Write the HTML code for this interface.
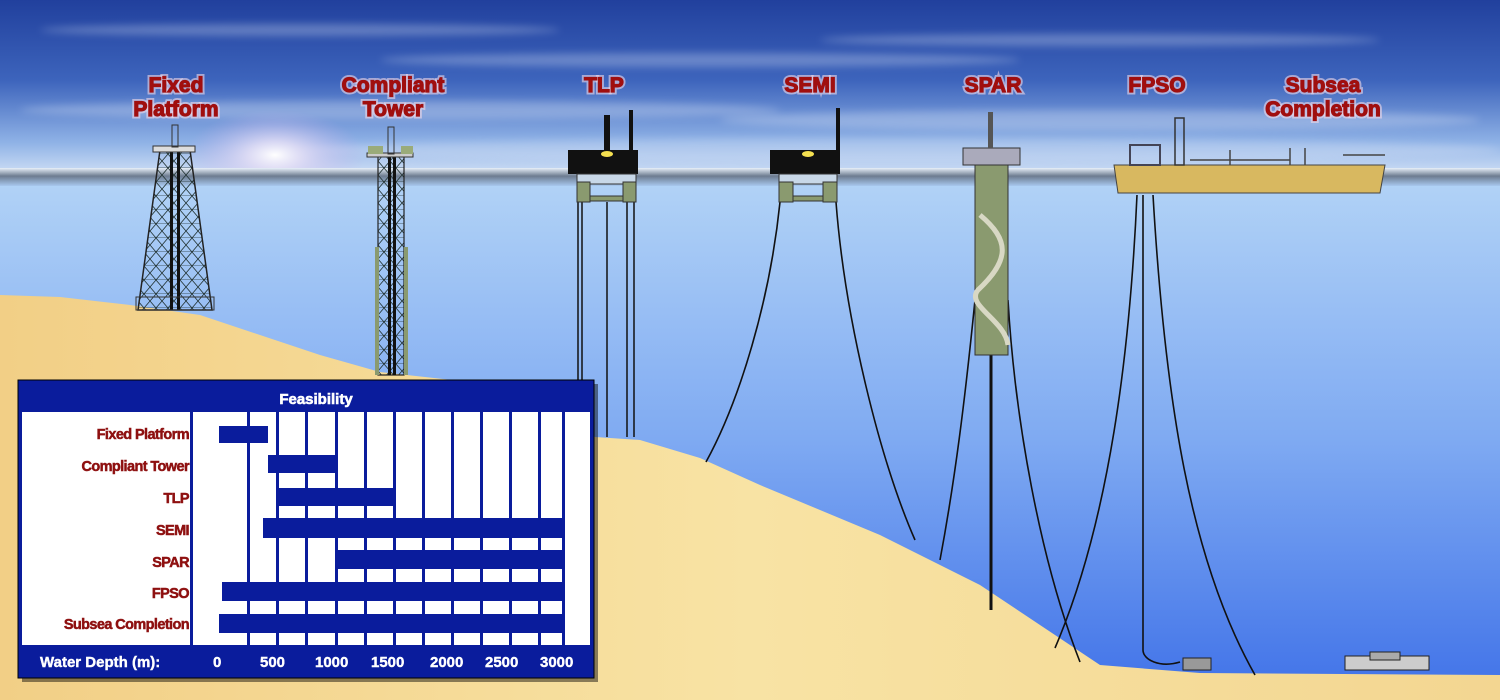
<!DOCTYPE html>
<html><head><meta charset="utf-8"><style>
html,body{margin:0;padding:0;width:1500px;height:700px;overflow:hidden;background:#6a9be8}
svg{display:block}
.t{font-family:"Liberation Sans",Arial,sans-serif;font-weight:bold;fill:#a00f0f;stroke:#a00f0f;stroke-width:1.2;font-size:21px;text-anchor:middle;letter-spacing:0px}
.tg{font-family:"Liberation Sans",Arial,sans-serif;font-weight:bold;fill:none;stroke:#f0d8e8;stroke-opacity:0.6;stroke-width:5;font-size:21px;text-anchor:middle}
.l{font-family:"Liberation Sans",Arial,sans-serif;font-weight:bold;fill:#8e1010;stroke:#8e1010;stroke-width:0.5;font-size:14.5px;text-anchor:end;letter-spacing:-0.6px}
.w{font-family:"Liberation Sans",Arial,sans-serif;font-weight:bold;fill:#fff;font-size:15px}
</style></head><body>
<svg width="1500" height="700" viewBox="0 0 1500 700" xmlns="http://www.w3.org/2000/svg">
<defs>
<linearGradient id="sky" x1="0" y1="0" x2="0" y2="1">
<stop offset="0" stop-color="#21409d"/><stop offset="0.45" stop-color="#3d64bc"/><stop offset="0.8" stop-color="#8fb2e6"/><stop offset="1" stop-color="#d6e4f7"/></linearGradient>
<linearGradient id="sea" x1="0" y1="0" x2="0" y2="1">
<stop offset="0" stop-color="#b2d3f6"/><stop offset="0.5" stop-color="#7faaf2"/><stop offset="1" stop-color="#3f71e8"/></linearGradient>
<linearGradient id="hz" x1="0" y1="0" x2="0" y2="1">
<stop offset="0" stop-color="#e8f0fa"/><stop offset="0.45" stop-color="#6d7c90"/><stop offset="1" stop-color="#a8c8ee"/></linearGradient>
<radialGradient id="sun" cx="0.5" cy="0.5" r="0.5"><stop offset="0" stop-color="#fff"/><stop offset="0.3" stop-color="#e8e0f6" stop-opacity="0.8"/><stop offset="1" stop-color="#b8a8e8" stop-opacity="0"/></radialGradient>
<linearGradient id="sand" x1="0" y1="0" x2="1" y2="0">
<stop offset="0" stop-color="#f2cf86"/><stop offset="0.5" stop-color="#f8e3a4"/><stop offset="1" stop-color="#f3d691"/></linearGradient>
<pattern id="truss" width="12" height="14" patternUnits="userSpaceOnUse"><path d="M0 0L12 14M12 0L0 14M0 14H12" stroke="#233" stroke-width="0.8" fill="none"/></pattern>
<filter id="bl"><feGaussianBlur stdDeviation="4"/></filter>
</defs>
<rect width="1500" height="178" fill="url(#sky)"/>
<g fill="#dfe8f8" opacity="0.3" filter="url(#bl)">
<ellipse cx="300" cy="30" rx="260" ry="6"/><ellipse cx="700" cy="60" rx="320" ry="7"/><ellipse cx="1100" cy="40" rx="280" ry="6"/><ellipse cx="400" cy="110" rx="380" ry="9"/><ellipse cx="1100" cy="120" rx="380" ry="10"/><ellipse cx="900" cy="150" rx="600" ry="12"/></g>
<ellipse cx="275" cy="155" rx="90" ry="45" fill="url(#sun)"/>
<rect y="178" width="1500" height="522" fill="url(#sea)"/>
<rect y="168" width="1500" height="18" fill="url(#hz)"/>
<path d="M0 295 L60 297 L130 305 L200 315 L260 335 L320 355 L380 372 L470 382 L540 395 L595 437 L640 440 L700 458 L760 485 L820 510 L880 535 L930 560 L980 585 L1040 625 L1100 665 L1200 673 L1500 675 L1500 700 L0 700Z" fill="url(#sand)"/>
<!-- fixed platform -->
<path d="M160 150 L190 150 L212 310 L138 310Z" fill="url(#truss)" stroke="#222" stroke-width="1.5"/>
<rect x="170" y="150" width="3" height="160" fill="#111"/><rect x="177" y="150" width="3" height="160" fill="#111"/>
<rect x="153" y="146" width="42" height="6" fill="#ddd" stroke="#333"/>
<rect x="172" y="125" width="6" height="22" fill="none" stroke="#333"/>
<rect x="136" y="297" width="78" height="13" fill="none" stroke="#333"/>
<!-- compliant tower -->
<rect x="378" y="155" width="26" height="220" fill="url(#truss)" stroke="#222" stroke-width="1.2"/>
<rect x="388" y="155" width="3" height="220" fill="#111"/><rect x="393" y="155" width="3" height="220" fill="#111"/>
<rect x="375" y="247" width="4" height="128" fill="#8a9a6f"/><rect x="404" y="247" width="4" height="128" fill="#8a9a6f"/>
<rect x="367" y="153" width="46" height="4" fill="#ccc" stroke="#333"/>
<rect x="368" y="146" width="15" height="8" fill="#9aab7a"/><rect x="401" y="146" width="12" height="8" fill="#9aab7a"/>
<rect x="388" y="127" width="6" height="27" fill="none" stroke="#333"/>
<!-- TLP -->
<g stroke="#111" stroke-width="1.5"><line x1="578" y1="202" x2="578" y2="437"/><line x1="582" y1="202" x2="582" y2="437"/><line x1="607" y1="202" x2="607" y2="437"/><line x1="627" y1="202" x2="627" y2="437"/><line x1="634" y1="202" x2="634" y2="437"/></g>
<rect x="568" y="150" width="70" height="24" fill="#111"/>
<rect x="604" y="115" width="6" height="36" fill="#111"/><rect x="629" y="110" width="4" height="40" fill="#111"/>
<ellipse cx="607" cy="154" rx="6" ry="3" fill="#f5e050"/>
<rect x="577" y="174" width="59" height="10" fill="#c8d8e8" stroke="#333"/>
<rect x="577" y="182" width="13" height="20" fill="#8a9a6f" stroke="#333"/><rect x="623" y="182" width="13" height="20" fill="#8a9a6f" stroke="#333"/>
<rect x="590" y="196" width="33" height="5" fill="#8a9a6f" stroke="#333"/>
<!-- SEMI -->
<g fill="none" stroke="#111" stroke-width="1.6"><path d="M780 202 C770 300 740 400 706 462"/><path d="M836 202 C845 320 880 460 915 540"/></g>
<rect x="770" y="150" width="70" height="24" fill="#111"/>
<rect x="836" y="108" width="4" height="44" fill="#111"/>
<ellipse cx="808" cy="154" rx="6" ry="3" fill="#f5e050"/>
<rect x="779" y="174" width="58" height="10" fill="#c8d8e8" stroke="#333"/>
<rect x="779" y="182" width="14" height="20" fill="#8a9a6f" stroke="#333"/><rect x="823" y="182" width="14" height="20" fill="#8a9a6f" stroke="#333"/>
<rect x="793" y="196" width="30" height="5" fill="#8a9a6f" stroke="#333"/>
<!-- SPAR -->
<g fill="none" stroke="#111" stroke-width="1.6"><path d="M975 300 C965 400 955 480 940 560"/><path d="M1008 300 C1015 420 1040 560 1080 662"/></g>
<line x1="991" y1="355" x2="991" y2="610" stroke="#111" stroke-width="3"/>
<rect x="975" y="165" width="33" height="190" fill="#8a9a6f" stroke="#333"/>
<path d="M980 215 C1010 240 1010 260 978 290 C965 305 1005 320 1008 345" fill="none" stroke="#d8d8c4" stroke-width="5"/>
<rect x="963" y="148" width="57" height="17" fill="#aab" stroke="#333"/>
<rect x="988" y="112" width="5" height="36" fill="#555"/>
<!-- FPSO -->
<g fill="none" stroke="#111" stroke-width="1.6"><path d="M1137 195 C1130 350 1110 520 1055 648"/><path d="M1153 195 C1165 400 1190 560 1255 675"/><path d="M1143 195 L1143 650 C1143 660 1160 668 1180 662"/></g>
<path d="M1114 165 L1385 165 L1380 193 L1118 193Z" fill="#d8b860" stroke="#444"/>
<rect x="1130" y="145" width="30" height="20" fill="none" stroke="#445" stroke-width="2"/>
<rect x="1175" y="118" width="9" height="47" fill="none" stroke="#333" stroke-width="1.5"/>
<path d="M1190 160 H1290 M1230 150 V165 M1290 148 V165 M1305 148 V165 M1343 155 H1385" stroke="#444" stroke-width="1.5"/>
<rect x="1183" y="658" width="28" height="12" fill="#999" stroke="#222"/>
<!-- subsea -->
<rect x="1345" y="656" width="84" height="14" fill="#ccc" stroke="#222"/>
<rect x="1370" y="652" width="30" height="8" fill="#aaa" stroke="#222"/>
<!-- titles -->
<g class="tg"><text x="176" y="92">Fixed</text><text x="176" y="116">Platform</text><text x="393" y="92">Compliant</text><text x="393" y="116">Tower</text><text x="604" y="92">TLP</text><text x="810" y="92">SEMI</text><text x="993" y="92">SPAR</text><text x="1157" y="92">FPSO</text><text x="1323" y="92">Subsea</text><text x="1323" y="116">Completion</text></g>
<text class="t" x="176" y="92">Fixed</text><text class="t" x="176" y="116">Platform</text>
<text class="t" x="393" y="92">Compliant</text><text class="t" x="393" y="116">Tower</text>
<text class="t" x="604" y="92">TLP</text>
<text class="t" x="810" y="92">SEMI</text>
<text class="t" x="993" y="92">SPAR</text>
<text class="t" x="1157" y="92">FPSO</text>
<text class="t" x="1323" y="92">Subsea</text><text class="t" x="1323" y="116">Completion</text>
<!-- table -->
<rect x="22" y="384" width="576" height="298" fill="#000" opacity="0.45"/>
<rect x="18" y="380" width="576" height="298" fill="#0a1c9c" stroke="#000" stroke-width="1"/>
<rect x="22" y="412" width="568" height="233" fill="#fff"/>
<text class="w" x="316" y="404" text-anchor="middle" font-size="19" stroke="#fff" stroke-width="0.6">Feasibility</text>
<g fill="#0a1c9c">
<rect x="190" y="412" width="3" height="233"/>
<rect x="247" y="412" width="3" height="233"/><rect x="276" y="412" width="3" height="233"/><rect x="305" y="412" width="3" height="233"/><rect x="335" y="412" width="3" height="233"/><rect x="364" y="412" width="3" height="233"/><rect x="393" y="412" width="3" height="233"/><rect x="422" y="412" width="3" height="233"/><rect x="451" y="412" width="3" height="233"/><rect x="480" y="412" width="3" height="233"/><rect x="509" y="412" width="3" height="233"/><rect x="538" y="412" width="3" height="233"/><rect x="562" y="412" width="3" height="233"/>
<rect x="219" y="426" width="49" height="17"/>
<rect x="268" y="455" width="68" height="18"/>
<rect x="278" y="488" width="115" height="18"/>
<rect x="263" y="518" width="300" height="20"/>
<rect x="336" y="550" width="227" height="19"/>
<rect x="222" y="582" width="341" height="19"/>
<rect x="219" y="614" width="344" height="19"/>
</g>
<text class="l" x="189" y="439">Fixed Platform</text>
<text class="l" x="189" y="471">Compliant Tower</text>
<text class="l" x="189" y="503" letter-spacing="2">TLP</text>
<text class="l" x="189" y="535" letter-spacing="2">SEMI</text>
<text class="l" x="189" y="567" letter-spacing="2">SPAR</text>
<text class="l" x="189" y="598" letter-spacing="2">FPSO</text>
<text class="l" x="189" y="629">Subsea Completion</text>
<g class="w" font-size="14.5" stroke="#fff" stroke-width="0.4">
<text x="40" y="667">Water Depth (m):</text>
<text x="213" y="667">0</text><text x="260" y="667">500</text><text x="315" y="667">1000</text><text x="371" y="667">1500</text><text x="430" y="667">2000</text><text x="485" y="667">2500</text><text x="540" y="667">3000</text>
</g>
</svg>
</body></html>
